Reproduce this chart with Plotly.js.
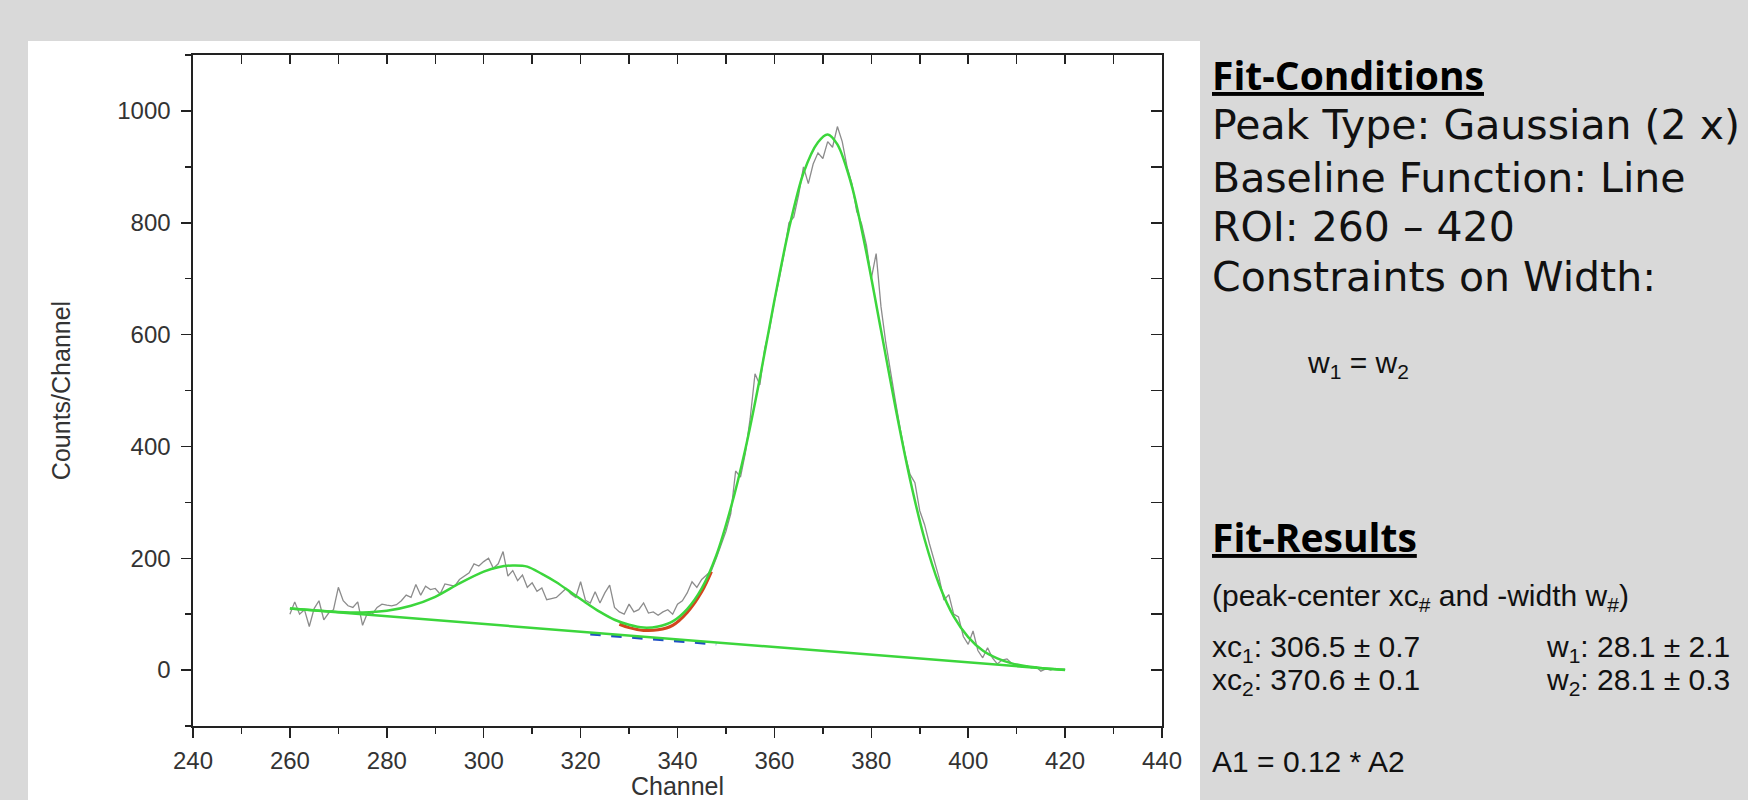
<!DOCTYPE html>
<html>
<head>
<meta charset="utf-8">
<script src="https://cdn.plot.ly/plotly-3.0.1.min.js"></script>
<style>
html,body{margin:0;padding:0;background:#d9d9d9;overflow:hidden;}
#chart{width:1748px;height:800px;}
</style>
</head>
<body>
<div id="chart"></div>
<script>
// ---- measured spectrum (channel 260 .. 420) ----
const channels = [
 260,261,262,263,264,265,266,267,268,269,
 270,271,272,273,274,275,276,277,278,279,
 280,281,282,283,284,285,286,287,288,289,
 290,291,292,293,294,295,296,297,298,299,
 300,301,302,303,304,305,306,307,308,309,
 310,311,312,313,314,315,316,317,318,319,
 320,321,322,323,324,325,326,327,328,329,
 330,331,332,333,334,335,336,337,338,339,
 340,341,342,343,344,345,346,347,348,349,
 350,351,352,353,354,355,356,357,358,359,
 360,361,362,363,364,365,366,367,368,369,
 370,371,372,373,374,375,376,377,378,379,
 380,381,382,383,384,385,386,387,388,389,
 390,391,392,393,394,395,396,397,398,399,
 400,401,402,403,404,405,406,407,408,409,
 410,411,412,413,414,415,416,417,418,419,
 420];
const counts = [
 100,122,100,108,78,110,124,90,102,108,
 148,124,115,112,122,80,102,100,112,118,
 116,115,117,124,134,130,153,134,150,144,
 146,136,154,152,150,162,168,174,190,186,
 194,200,182,190,212,168,178,160,170,148,
 156,141,147,126,128,130,138,146,136,130,
 158,125,120,140,120,138,152,112,104,100,
 118,104,108,120,102,104,98,104,108,100,
 118,124,138,158,148,162,170,178,200,225,
 248,280,356,345,388,450,530,510,575,610,
 660,700,745,800,810,850,900,870,905,925,
 915,945,935,972,945,900,870,820,798,760,
 700,745,650,585,530,480,430,385,350,335,
 285,260,226,195,165,125,135,100,95,60,
 46,70,35,22,40,22,11,18,20,12,
 10,6,8,4,6,-2,2,0,3,1,
 1];

// ---- cumulative fit curve ----
const fitChannels = [260,265,270,275,280,285,290,295,300,303,306,309,312,315,318,321,324,327,330,333,336,339,342,345,348,351,354,357,360,363,366,369,371,373,376,379,382,385,388,391,394,397,400,403,406,409,412,416,420];
const fitCounts   = [110,107,104,103,106,115,131,155,176,184,187,185,172,157,139,121,104,90,81,76,78,87,109,146,205,290,395,522,661,789,889,944,958,940,865,746,608,469,341,234,153,96,59,35,21,12,7,3,0.5];

// ---- linear baseline ----
const baselineChannels = [260, 420];
const baselineCounts = [110, 0];

// ---- small coloured marks near the valley ----
const valleyArcChannels = [328,330,333,336,339,342,345,347];
const valleyArcCounts   = [82,76,71,72,80,103,140,176];
const baseMarkChannels = [322, 348];
const baseMarkCounts   = [65, 47];

// ---- axes ----
const xRange = [240, 440];
const yRange = [-100, 1100];

// plot-area geometry in pixels (styling only)
const L = 193, R = 1162, T = 55, B = 726;
const px = x => (x - L) / (R - L);
const py = y => (B - y) / (B - T);

const GREEN = '#3cd63c';
const AXC = '#222222';
const TICKFONT = {family: 'Liberation Sans, Arial, sans-serif', size: 24, color: '#333333'};

const traces = [
  {x: channels, y: counts, mode: 'lines', line: {color: '#8c8c8c', width: 1.3}},
  {x: valleyArcChannels, y: valleyArcCounts, mode: 'lines', line: {color: '#d2461e', width: 3, shape: 'spline'}},
  {x: baseMarkChannels, y: baseMarkCounts, mode: 'lines', line: {color: '#1f4fc4', width: 3.5, dash: 'dash'}},
  {x: baselineChannels, y: baselineCounts, mode: 'lines', line: {color: GREEN, width: 2.5}},
  {x: fitChannels, y: fitCounts, mode: 'lines', line: {color: GREEN, width: 2.5, shape: 'spline', smoothing: 0.8}},
  {x: [null], y: [null], xaxis: 'x2', yaxis: 'y2', mode: 'lines', hoverinfo: 'skip'}
];

const regFont = {family: 'DejaVu Sans', size: 41, color: '#111111', weight: 400};
const boldFont = {family: 'Open Sans', size: 39, color: '#000000', weight: 700};
const arialFont = {family: 'Liberation Sans, Arial, sans-serif', size: 30, color: '#111111'};

function ann(text, xpx, ypx, font) {
  return {text: text, xref: 'paper', yref: 'paper', x: px(xpx), y: py(ypx),
          xanchor: 'left', yanchor: 'middle', showarrow: false, font: font, align: 'left'};
}

const annotations = [
  ann('<u>Fit-Conditions</u>', 1210, 75, boldFont),
  ann('Peak Type: Gaussian (2 x)', 1210, 125, regFont),
  ann('Baseline Function: Line', 1210, 178, regFont),
  ann('ROI: 260 \u2013 420', 1210, 227, regFont),
  ann('Constraints on Width:', 1210, 277, regFont),
  ann('w<sub>1</sub> = w<sub>2</sub>', 1305, 364, arialFont),
  ann('<u>Fit-Results</u>', 1210, 536, boldFont),
  ann('(peak-center xc<sub>#</sub> and -width w<sub>#</sub>)', 1210, 597, arialFont),
  ann('xc<sub>1</sub>: 306.5 \u00b1 0.7', 1210, 648, arialFont),
  ann('w<sub>1</sub>: 28.1 \u00b1 2.1', 1544, 648, arialFont),
  ann('xc<sub>2</sub>: 370.6 \u00b1 0.1', 1210, 681, arialFont),
  ann('w<sub>2</sub>: 28.1 \u00b1 0.3', 1544, 681, arialFont),
  ann('A1 = 0.12 * A2', 1210, 761, arialFont)
];

const layout = {
  width: 1748, height: 800,
  paper_bgcolor: '#d9d9d9',
  plot_bgcolor: '#ffffff',
  showlegend: false,
  margin: {l: L, r: 1748 - R, t: T, b: 800 - B, pad: 0},
  xaxis: {
    range: xRange, dtick: 20, tick0: 240,
    ticks: 'outside', ticklen: 10, tickwidth: 1.5, tickcolor: AXC,
    minor: {dtick: 10, ticks: 'outside', ticklen: 6, tickwidth: 1.5, tickcolor: AXC},
    showline: true, linecolor: AXC, linewidth: 1.6, mirror: true,
    showgrid: false, zeroline: false,
    tickfont: TICKFONT, ticklabelstandoff: 3,
    title: {text: 'Channel', font: {family: 'Liberation Sans, Arial, sans-serif', size: 25, color: '#333333'}, standoff: 23},
    automargin: false
  },
  yaxis: {
    range: yRange, dtick: 200, tick0: 0,
    ticks: 'outside', ticklen: 10, tickwidth: 1.5, tickcolor: AXC,
    minor: {dtick: 100, ticks: 'outside', ticklen: 6, tickwidth: 1.5, tickcolor: AXC},
    showline: true, linecolor: AXC, linewidth: 1.6, mirror: true,
    showgrid: false, zeroline: false,
    tickfont: TICKFONT, ticklabelstandoff: 6,
    title: {text: 'Counts/Channel', font: {family: 'Liberation Sans, Arial, sans-serif', size: 25, color: '#333333'}, standoff: 39},
    automargin: false
  },
  xaxis2: {
    overlaying: 'x', side: 'top', range: xRange, dtick: 10, tick0: 240,
    ticks: 'inside', ticklen: 9, tickwidth: 1.5, tickcolor: AXC,
    showticklabels: false, showline: false, showgrid: false, zeroline: false
  },
  yaxis2: {
    overlaying: 'y', side: 'right', range: yRange, dtick: 100, tick0: 0,
    ticks: 'inside', ticklen: 11, tickwidth: 1.5, tickcolor: AXC,
    showticklabels: false, showline: false, showgrid: false, zeroline: false
  },
  shapes: [{
    type: 'rect', xref: 'paper', yref: 'paper', layer: 'below',
    x0: px(28), x1: px(1200), y0: py(810), y1: py(41),
    fillcolor: '#ffffff', line: {width: 0}
  }],
  annotations: annotations
};

Plotly.newPlot('chart', traces, layout, {displayModeBar: false, staticPlot: true});
</script>
</body>
</html>
